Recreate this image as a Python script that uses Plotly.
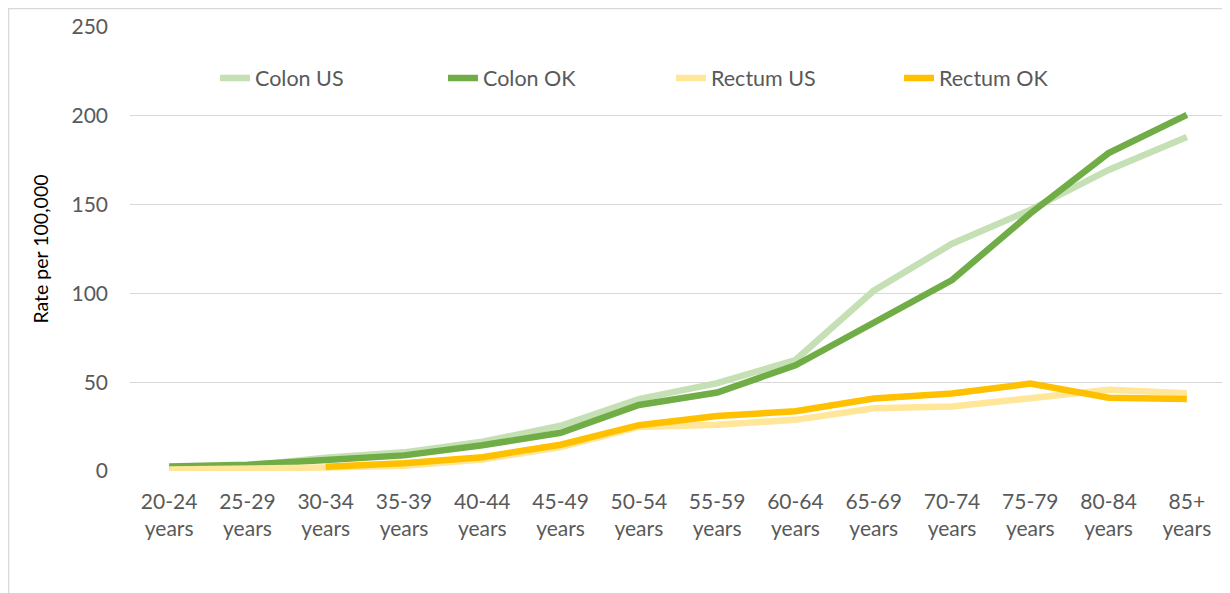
import plotly.graph_objects as go

categories = ["20-24<br>years", "25-29<br>years", "30-34<br>years", "35-39<br>years",
              "40-44<br>years", "45-49<br>years", "50-54<br>years", "55-59<br>years",
              "60-64<br>years", "65-69<br>years", "70-74<br>years", "75-79<br>years",
              "80-84<br>years", "85+<br>years"]

colon_us = [1.5, 3.0, 7.5, 10.5, 16.5, 25.5, 40.5, 49.5, 62.5, 101.5, 128.0, 147.0, 169.5, 188.0]
colon_ok = [2.5, 3.5, 6.2, 8.8, 14.5, 21.5, 37.2, 44.2, 59.5, 83.0, 107.5, 145.0, 179.0, 200.5]
rectum_us = [0.8, 1.2, 2.0, 3.0, 6.5, 13.5, 24.8, 26.0, 28.8, 35.3, 36.3, 41.0, 45.8, 43.8]
rectum_ok = [None, None, 2.4, 4.3, 7.8, 14.8, 25.8, 31.0, 33.6, 40.8, 43.6, 49.2, 41.3, 40.5]

y_ticks = [0, 50, 100, 150, 200, 250]

series = [
    ("Colon US", colon_us, "#C5E0B4"),
    ("Colon OK", colon_ok, "#70AD47"),
    ("Rectum US", rectum_us, "#FFE699"),
    ("Rectum OK", rectum_ok, "#FFC000"),
]

FONT = "Lato, 'Open Sans', sans-serif"
GRAY = "#595959"

fig = go.Figure()
for name, vals, color in series:
    fig.add_trace(go.Scatter(
        x=categories, y=vals, name=name, mode="lines",
        line=dict(color=color, width=6.5),
        connectgaps=False,
    ))

# page body has an 8px margin, so the canvas is sized to fit the window
W, H = 1222, 585
ml, mr, mt, mb = 122, 4, 19, 122
pw = W - ml - mr
ph = H - mt - mb

fig.update_layout(
    width=W, height=H,
    margin=dict(l=ml, r=mr, t=mt, b=mb, autoexpand=False),
    paper_bgcolor="white", plot_bgcolor="white",
    font=dict(family=FONT, size=21, color=GRAY),
    showlegend=True,
    legend=dict(
        orientation="h",
        x=(207 - ml) / pw, xanchor="left",
        y=(ph - 51) / ph, yanchor="middle",
        bgcolor="rgba(0,0,0,0)",
        font=dict(family=FONT, size=21.5, color=GRAY),
        entrywidth=183, entrywidthmode="pixels",
        itemwidth=30,
    ),
    xaxis=dict(
        type="category", range=[-0.5, len(categories) - 0.5],
        automargin=False,
        showgrid=False, zeroline=False, showline=False,
        ticks="", tickfont=dict(family=FONT, size=21, color=GRAY),
        ticklabelstandoff=16,
    ),
    yaxis=dict(
        range=[0, 250], tickvals=y_ticks, automargin=False,
        showgrid=True, gridcolor="#D9D9D9", gridwidth=1.3,
        zeroline=False, showline=False, ticks="",
        tickfont=dict(family=FONT, size=21, color=GRAY),
        ticklabelstandoff=21,
        title=dict(text="Rate per 100,000",
                   font=dict(family=FONT, size=19.5, color="black"),
                   standoff=17),
    ),
    shapes=[dict(
        type="rect", xref="paper", yref="paper",
        x0=(0.7 - ml) / pw, x1=(W + 10 - ml) / pw,
        y0=(ph - (H + 10 - mt)) / ph, y1=(ph + mt - 0.7) / ph,
        line=dict(color="#D9D9D9", width=1.3), fillcolor="rgba(0,0,0,0)",
        layer="below",
    )],
)

fig.write_html("out.html")
